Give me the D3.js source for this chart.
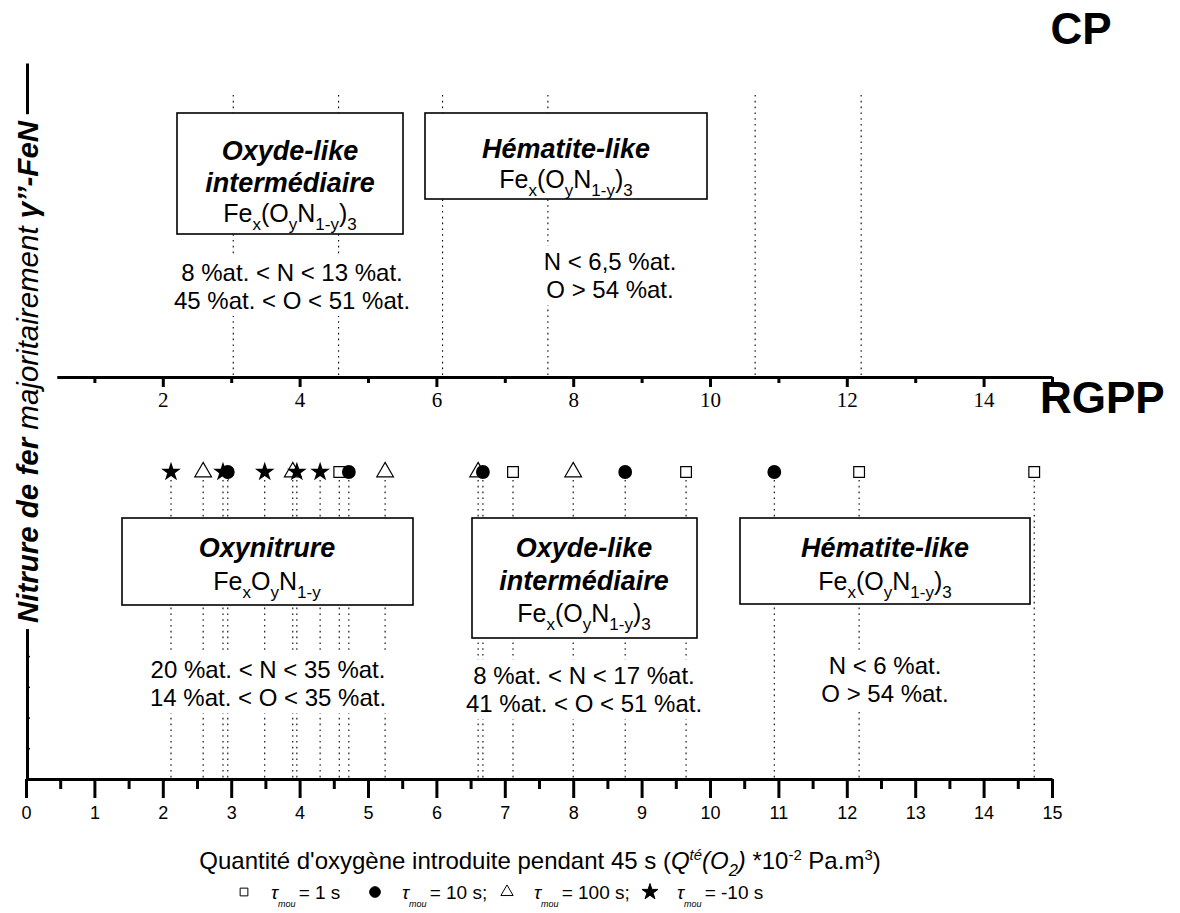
<!DOCTYPE html>
<html><head><meta charset="utf-8">
<script src="https://cdn.jsdelivr.net/npm/d3@7"></script>
<style>body{margin:0;background:#fff}svg{display:block}</style>
</head><body>
<svg id="c" width="1180" height="913"></svg>
<script>
// ---------- data ----------
const bottomMajorTicks = [0,1,2,3,4,5,6,7,8,9,10,11,12,13,14,15];
const bottomMinorTicks = [0.5,1.5,2.5,3.5,4.5,5.5,6.5,7.5,8.5,9.5,10.5,11.5,12.5,13.5,14.5];
const topMajorTicks = [2,4,6,8,10,12,14];
const topMinorTicks = [1,3,5,7,9,11,13,15];
const cpLines = [3.03,4.57,6.09,7.63,10.66,12.21];
const tau1 = [4.58,7.12,9.65,12.18,14.74];        // squares
const tau10 = [2.95,4.72,6.68,8.76,10.94];        // circles
const tau100 = [2.59,3.90,5.25,6.61,8.00];        // triangles
const tauNeg10 = [2.12,2.88,3.49,3.96,4.30];      // stars
const leftTicks = [1,2,3,4];

const SANS = "'Liberation Sans', Arial, sans-serif";
const SERIF = "'Liberation Serif', 'Times New Roman', serif";

const svg = d3.select('#c');
const x = d3.scaleLinear().domain([0,15]).range([26,1052]);
const xTop = d3.scaleLinear().domain([0.45,15]).range([x(0.45), x(15)]);
const yLeft = d3.scaleLinear().domain([0,23.3]).range([779,63]);

const Y_TOP = 377, Y_BOT = 779, Y_MARK = 472;

// ---------- dotted guide lines ----------
const gl = svg.append('g').attr('stroke','#000').attr('stroke-width',1.1).attr('stroke-dasharray','1.6,4.2');
gl.selectAll('line.cp').data(cpLines).join('line').attr('class','cp')
  .attr('x1',d=>x(d)).attr('x2',d=>x(d)).attr('y1',95).attr('y2',Y_TOP);
const allPts = [].concat(tau1,tau10,tau100,tauNeg10);
gl.selectAll('line.rg').data(allPts).join('line').attr('class','rg')
  .attr('x1',d=>x(d)).attr('x2',d=>x(d)).attr('y1',Y_MARK+8).attr('y2',Y_BOT);

// ---------- helpers ----------
function richText(g, xc, y, parts, size, anchor){
  const t = g.append('text').attr('x',xc).attr('y',y).attr('text-anchor',anchor||'middle')
    .attr('font-family',SANS).attr('font-size',size);
  let shift = 0;
  parts.forEach(p=>{
    const s = t.append('tspan').text(p.t);
    let target = 0, fs = size;
    if(p.sub){ target = p.sh!=null ? p.sh : size*0.3; fs = p.fs || size*0.68; }
    if(p.sup){ target = -size*0.38; fs = size*0.62; }
    s.attr('dy', target-shift).attr('font-size',fs);
    if(p.dx) s.attr('dx',p.dx);
    shift = target;
    if(p.i) s.attr('font-style','italic');
    if(p.b) s.attr('font-weight','bold');
  });
  return t;
}
function whiteBehind(g, pad){
  const bb = g.node().getBBox();
  g.insert('rect',':first-child').attr('x',bb.x-pad).attr('y',bb.y-pad/2)
    .attr('width',bb.width+2*pad).attr('height',bb.height+pad).attr('fill','#fff');
}
function box(x0,y0,w,h){
  const g = svg.append('g');
  g.append('rect').attr('x',x0).attr('y',y0).attr('width',w).attr('height',h)
   .attr('fill','#fff').attr('stroke','#000').attr('stroke-width',1.6);
  return g;
}
const F_ox = [{t:'Fe'},{t:'x',sub:1},{t:'(O'},{t:'y',sub:1},{t:'N'},{t:'1-y',sub:1},{t:')'},{t:'3',sub:1}];
const F_on = [{t:'Fe'},{t:'x',sub:1},{t:'O'},{t:'y',sub:1},{t:'N'},{t:'1-y',sub:1}];
const TS = 27, FS = 25, RS = 24;

function label(g, xc, y, txt){
  return richText(g, xc, y, [{t:txt,b:1,i:1}], TS);
}
function rangeText(xc, y1, l1, l2){
  const g = svg.append('g');
  richText(g, xc, y1, [{t:l1}], RS);
  richText(g, xc, y1+28, [{t:l2}], RS);
  whiteBehind(g, 4);
}

// ---------- upper (CP) annotations ----------
let b = box(177,113,226,121);
label(b, 290, 160, 'Oxyde-like');
label(b, 290, 192, 'intermédiaire');
richText(b, 290, 222, F_ox, FS);
b = box(425,113,282,86);
label(b, 566, 158, 'Hématite-like');
richText(b, 566, 188, F_ox, FS);
rangeText(292, 281, '8 %at. < N < 13 %at.', '45 %at. < O < 51 %at.');
rangeText(610, 270, 'N < 6,5 %at.', 'O > 54 %at.');

// ---------- lower (RGPP) annotations ----------
b = box(122,518,291,87);
label(b, 267, 557, 'Oxynitrure');
richText(b, 267, 590, F_on, FS);
b = box(472,518,225,120);
label(b, 584, 557, 'Oxyde-like');
label(b, 584, 590, 'intermédiaire');
richText(b, 584, 622, F_ox, FS);
b = box(740,518,290,86);
label(b, 885, 557, 'Hématite-like');
richText(b, 885, 590, F_ox, FS);
rangeText(268, 678, '20 %at. < N < 35 %at.', '14 %at. < O < 35 %at.');
rangeText(584, 684, '8 %at. < N < 17 %at.', '41 %at. < O < 51 %at.');
rangeText(885, 674, 'N < 6 %at.', 'O > 54 %at.');

// ---------- top axis (CP) ----------
const gTop = svg.append('g').attr('transform',`translate(0,${Y_TOP})`);
gTop.call(d3.axisBottom(xTop).tickValues(topMajorTicks).tickSize(10).tickSizeOuter(0).tickPadding(5));
const gTopMin = svg.append('g').attr('transform',`translate(0,${Y_TOP})`);
gTopMin.call(d3.axisBottom(xTop).tickValues(topMinorTicks).tickSize(6).tickSizeOuter(0).tickFormat(''));
gTopMin.select('.domain').remove();
[gTop,gTopMin].forEach(g=>{
  g.select('.domain').attr('stroke-width',3.2);
  g.selectAll('.tick line').attr('stroke-width',3);
});
gTop.selectAll('.tick text').attr('font-family',SERIF).attr('font-size',21).attr('fill','#000');

// ---------- bottom axis ----------
const gB = svg.append('g').attr('transform',`translate(0,${Y_BOT})`);
gB.call(d3.axisBottom(x).tickValues(bottomMajorTicks).tickSize(19).tickSizeOuter(0).tickPadding(8).tickFormat(d3.format('d')));
const gBm = svg.append('g').attr('transform',`translate(0,${Y_BOT})`);
gBm.call(d3.axisBottom(x).tickValues(bottomMinorTicks).tickSize(10).tickSizeOuter(0).tickFormat(''));
gBm.select('.domain').remove();
[gB,gBm].forEach(g=>{
  g.select('.domain').attr('stroke-width',3);
  g.selectAll('.tick line').attr('stroke-width',3);
});
gB.selectAll('.tick text').attr('font-family',SANS).attr('font-size',18).attr('fill','#000');

// ---------- left vertical axis + label ----------
const gL = svg.append('g').attr('transform','translate(27,0)');
gL.call(d3.axisRight(yLeft).tickValues(leftTicks).tickSize(3).tickSizeOuter(0).tickFormat(''));
gL.select('.domain').attr('stroke-width',3);
gL.selectAll('.tick line').attr('stroke-width',1.5);
const gLab = svg.append('g').attr('transform','translate(38,372) rotate(-90)');
richText(gLab, 0, 0, [{t:'Nitrure de fer ',b:1,i:1},{t:'majoritairement ',i:1},{t:'γ’’-FeN',b:1,i:1}], 29.5);
whiteBehind(gLab, 6);

// ---------- markers ----------
const gm = svg.append('g');
const sym = (type,size)=>d3.symbol().type(type).size(size)();
gm.selectAll('path.sq').data(tau1).join('path').attr('class','sq')
  .attr('transform',d=>`translate(${x(d)},${Y_MARK})`).attr('d',sym(d3.symbolSquare,115))
  .attr('fill','#fff').attr('stroke','#000').attr('stroke-width',1.2);
gm.selectAll('path.tr').data(tau100).join('path').attr('class','tr')
  .attr('transform',d=>`translate(${x(d)},${Y_MARK})`).attr('d',sym(d3.symbolTriangle,120))
  .attr('fill','#fff').attr('stroke','#000').attr('stroke-width',1.2);
gm.selectAll('path.st').data(tauNeg10).join('path').attr('class','st')
  .attr('transform',d=>`translate(${x(d)},${Y_MARK})`).attr('d',sym(d3.symbolStar,120))
  .attr('fill','#000');
gm.selectAll('path.ci').data(tau10).join('path').attr('class','ci')
  .attr('transform',d=>`translate(${x(d)},${Y_MARK})`).attr('d',sym(d3.symbolCircle,150))
  .attr('fill','#000');

// ---------- big labels ----------
svg.append('text').attr('x',1081).attr('y',44).attr('text-anchor','middle')
  .attr('font-family',SANS).attr('font-weight','bold').attr('font-size',44).text('CP');
svg.append('text').attr('x',1040).attr('y',413)
  .attr('font-family',SANS).attr('font-weight','bold').attr('font-size',44).text('RGPP');

// ---------- axis title ----------
const gT = svg.append('g').attr('transform','translate(540,869)');
richText(gT, 0, 0, [{t:"Quantité d'oxygène introduite pendant 45 s ("},{t:'Q',i:1},{t:'té',sup:1,i:1},
  {t:'(O',i:1},{t:'2',sub:1,i:1},{t:')',i:1},{t:' *10'},{t:'-2',sup:1},{t:' Pa.m'},{t:'3',sup:1},{t:')'}], 24);

// ---------- legend ----------
const legendItems = [
  {type:d3.symbolSquare, fill:'#fff', sz:60, x:244, txt:'= 1 s'},
  {type:d3.symbolCircle, fill:'#000', sz:90, x:375, txt:'= 10 s;'},
  {type:d3.symbolTriangle, fill:'#fff', sz:65, x:507, txt:'= 100 s;'},
  {type:d3.symbolStar, fill:'#000', sz:80, x:650, txt:'= -10 s'}
];
const gLeg = svg.append('g');
legendItems.forEach(it=>{
  gLeg.append('path').attr('transform',`translate(${it.x},892)`).attr('d',sym(it.type,it.sz))
    .attr('fill',it.fill).attr('stroke','#000').attr('stroke-width',1);
  richText(gLeg, it.x+27, 899,
    [{t:'τ',i:1},{t:'mou',sub:1,i:1,fs:9,sh:8,dx:0},{t:it.txt,dx:3}], 19, 'start');
});
</script>
</body></html>
